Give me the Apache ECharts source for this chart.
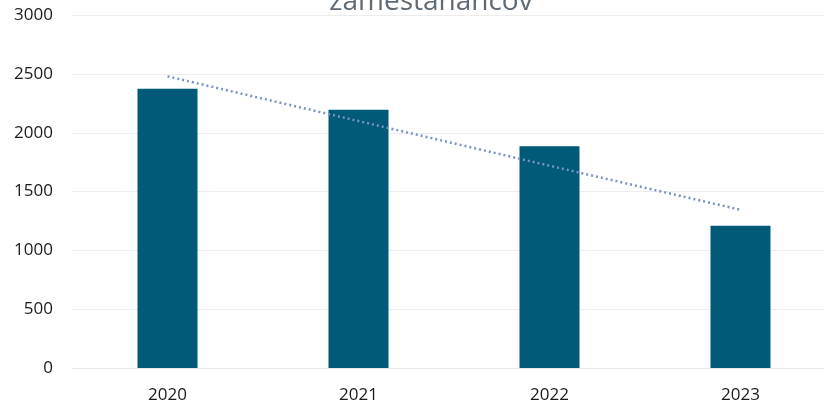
<!DOCTYPE html>
<html>
<head>
<meta charset="utf-8">
<script src="https://cdn.jsdelivr.net/npm/echarts@6/dist/echarts.min.js"></script>
<style>
html,body{margin:0;padding:0;background:#fff;overflow:hidden;width:824px;height:406px;}
#chart{width:840px;height:406px;}
</style>
</head>
<body>
<div id="chart"></div>
<script>
var titleText = 'zamestanancov';
var categories = ['2020', '2021', '2022', '2023'];
var employees = [2375, 2195, 1885, 1210];
var trend = [2480, 2100, 1720, 1345];
var yTicks = [0, 500, 1000, 1500, 2000, 2500, 3000];

var chart = echarts.init(document.getElementById('chart'));
chart.setOption({
  animation: false,
  backgroundColor: '#ffffff',
  title: {
    text: titleText,
    left: 426,
    textAlign: 'center',
    top: -17,
    textStyle: { fontFamily: 'Open Sans', fontSize: 28, fontWeight: 'normal', color: '#5f6a74' }
  },
  grid: { left: 72, top: 15.2, width: 764, bottom: 38 },
  xAxis: {
    type: 'category',
    data: categories,
    axisLine: { show: true, lineStyle: { color: '#e8e8e8', width: 1 } },
    axisTick: { show: false },
    axisLabel: { fontFamily: 'Open Sans', fontSize: 17, color: '#1a1a1a', margin: 19 }
  },
  yAxis: {
    type: 'value',
    min: yTicks[0],
    max: yTicks[yTicks.length - 1],
    interval: yTicks[1] - yTicks[0],
    axisLine: { show: false },
    axisTick: { show: false },
    splitLine: { lineStyle: { color: '#ececec', width: 1 } },
    axisLabel: { fontFamily: 'Open Sans', fontSize: 17, color: '#1a1a1a', margin: 19,
      formatter: function (v) { return String(v); } }
  },
  series: [
    {
      type: 'bar',
      data: employees,
      barWidth: 60,
      itemStyle: { color: '#005a78' }
    },
    {
      type: 'line',
      data: trend,
      symbol: 'none',
      lineStyle: { color: '#7a93c4', width: 2.5, type: [2, 3] },
      z: 3
    }
  ]
});
</script>
</body>
</html>
